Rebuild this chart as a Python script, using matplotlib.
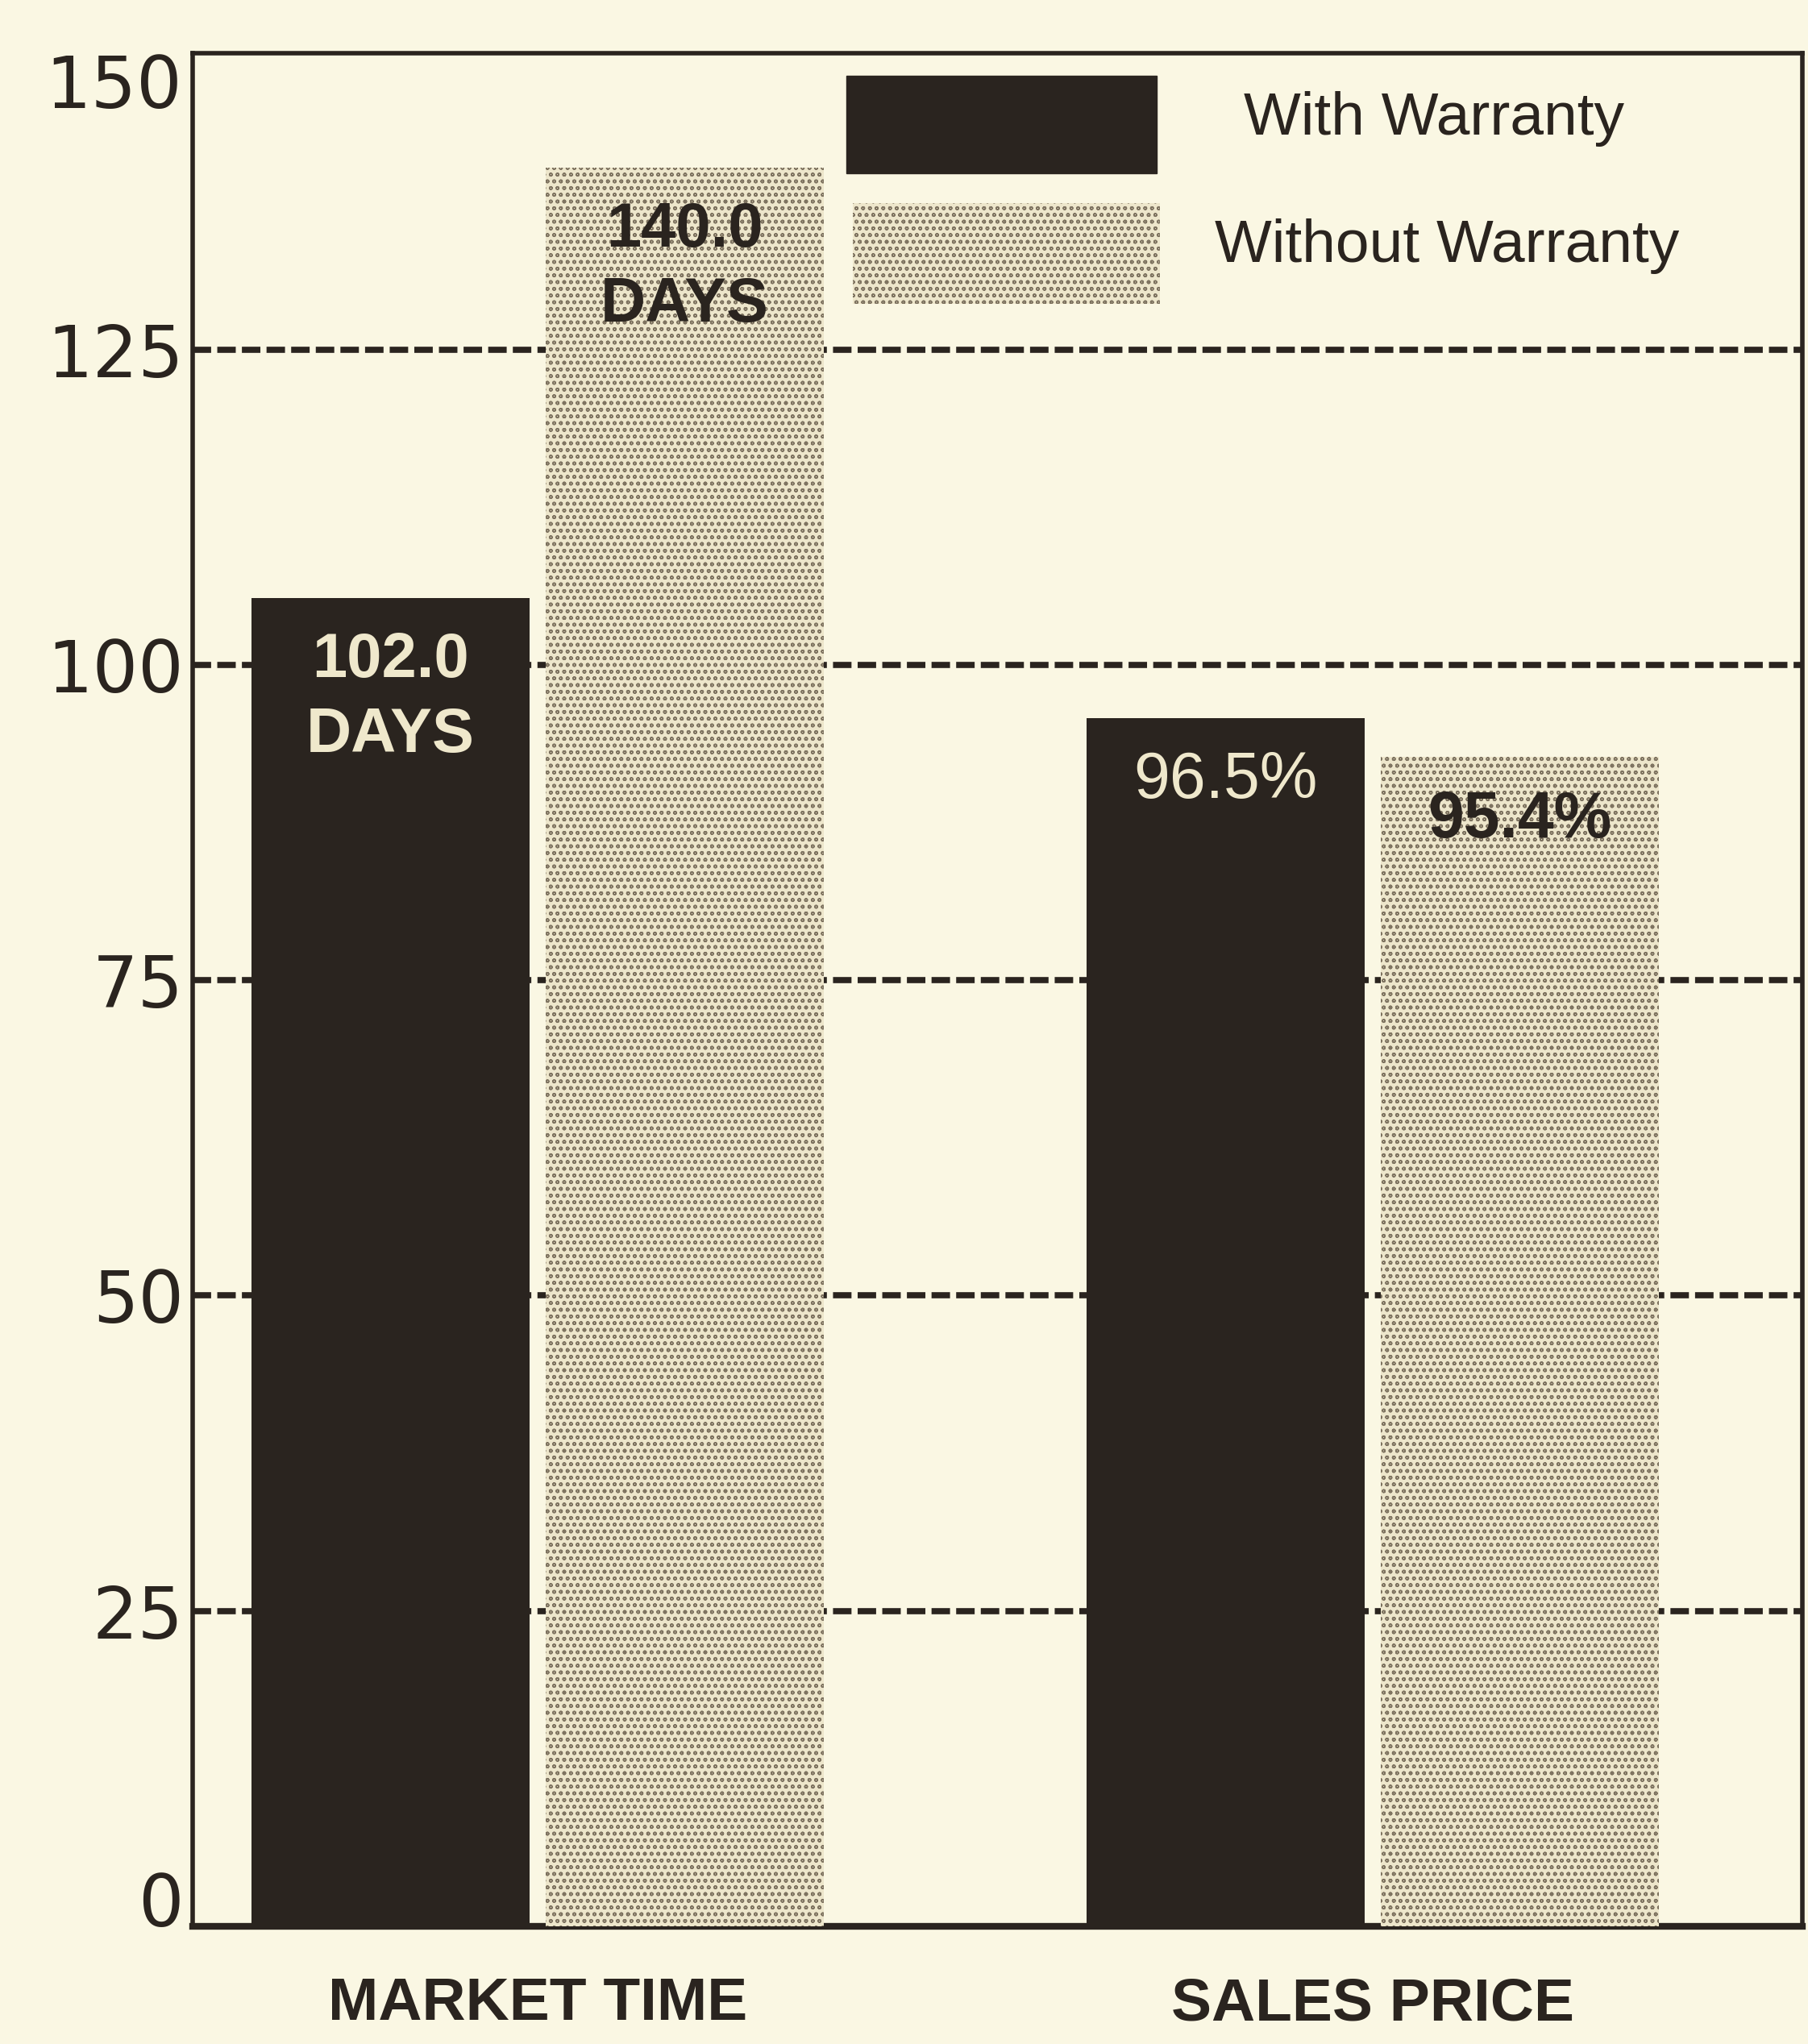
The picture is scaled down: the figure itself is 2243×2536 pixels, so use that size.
import numpy as np
import matplotlib.pyplot as plt
import matplotlib
from matplotlib.patches import Rectangle
from matplotlib.transforms import blended_transform_factory

matplotlib.rcParams.update({'font.family': ['Liberation Sans', 'DejaVu Sans'],
                            'hatch.linewidth': 1.1})

categories = ['MARKET TIME', 'SALES PRICE']
series = ['With Warranty', 'Without Warranty']
# bar heights as drawn in the picture
with_warranty = [105.3, 95.8]
without_warranty = [139.4, 92.7]
with_labels = ['102.0\nDAYS', '96.5%']
without_labels = ['140.0\nDAYS', '95.4%']
yticks = [0, 25, 50, 75, 100, 125, 150]

bg = '#faf7e3'
dark = '#2a241f'
cream = '#efe8cc'
dotted = '#ede6cb'
dots = '#7e7360'

fig = plt.figure(figsize=(22.43, 25.36), dpi=100, facecolor=bg)
ax = fig.add_axes([0.1066, 0.0576, 0.8904, 0.9164], facecolor=bg)

x = np.arange(len(categories))
w = 0.333
off = 0.176

ax.bar(x - off, with_warranty, w, color=dark, zorder=3)
ax.bar(x + off, without_warranty, w, facecolor=dotted, hatch='oo',
       edgecolor=dots, linewidth=0, zorder=3)

# dashed grid, hidden behind bars
for yv in yticks[1:-1]:
    ax.axhline(yv, color=dark, lw=5.5, ls=(0, (3, 1)), zorder=1)

# value labels inside bar tops
for i in range(len(categories)):
    ax.text(x[i] - off, with_warranty[i] - 2.6, with_labels[i], ha='center', va='top',
            color=cream, fontsize=56 if i == 0 else 58,
            fontweight='bold' if i == 0 else 'normal',
            linespacing=1.35, zorder=4)
    ax.text(x[i] + off, without_warranty[i] - 2.6, without_labels[i], ha='center', va='top',
            color=dark, fontsize=56 if i == 0 else 58, fontweight='bold',
            linespacing=1.35, zorder=4)

ax.set_xlim(-0.413, 1.515)
ax.set_ylim(0, 148.5)
ax.set_yticks(yticks[:-1])
ax.set_yticklabels([str(v) for v in yticks[:-1]], fontsize=64, color=dark,
                   family='DejaVu Sans')
ax.get_yticklabels()[0].set_va('baseline')
tr = blended_transform_factory(ax.transAxes, ax.transAxes)
ax.text(-0.0065, 1.0, str(yticks[-1]), transform=tr, ha='right', va='top',
        fontsize=64, color=dark, family='DejaVu Sans')
ax.set_xticks(x)
ax.set_xticklabels(categories, fontsize=54, fontweight='bold', color=dark)
ax.tick_params(axis='y', length=0, pad=8)
ax.tick_params(axis='x', length=0, pad=45)

for s in ax.spines.values():
    s.set_color(dark)
    s.set_linewidth(4)
ax.spines['bottom'].set_linewidth(6)

# legend drawn by hand
ax.add_patch(Rectangle((0.406, 0.936), 0.193, 0.052, transform=ax.transAxes,
                       color=dark, zorder=5))
ax.add_patch(Rectangle((0.410, 0.866), 0.191, 0.054, transform=ax.transAxes,
                       facecolor=dotted, hatch='oo', edgecolor=dots, linewidth=0,
                       zorder=5))
ax.text(0.653, 0.965, series[0], transform=ax.transAxes, va='center',
        fontsize=54, color=dark, zorder=5)
ax.text(0.635, 0.897, series[1], transform=ax.transAxes, va='center',
        fontsize=54, color=dark, zorder=5)

plt.savefig('out.png', dpi=100, facecolor=bg)
